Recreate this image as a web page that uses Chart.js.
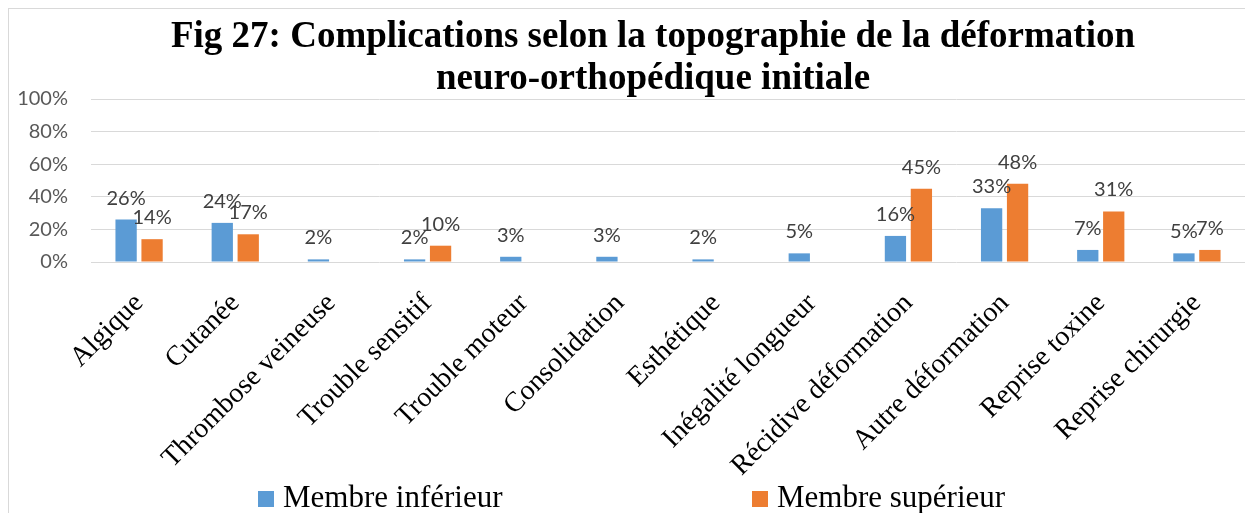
<!DOCTYPE html>
<html>
<head>
<meta charset="utf-8">
<script src="https://cdn.jsdelivr.net/npm/chart.js@4/dist/chart.umd.min.js"></script>
<style>
  html, body { margin: 0; padding: 0; background: #fff; }
  #wrap { width: 1245px; height: 513px; position: relative; }
</style>
</head>
<body>
<div id="wrap"><canvas id="chart1"></canvas></div>
<script>
const categories = ["Algique", "Cutanée", "Thrombose veineuse", "Trouble sensitif", "Trouble moteur", "Consolidation", "Esthétique", "Inégalité longueur", "Récidive déformation", "Autre déformation", "Reprise toxine", "Reprise chirurgie"];
const membreInferieur = [26, 24, 1.6, 1.6, 3.2, 3.2, 1.6, 5.3, 16, 33, 7.4, 5.3];
const membreSuperieur = [14, 17, null, 10, null, null, null, null, 45, 48, 31, 7.4];
const yTicks = [0, 20, 40, 60, 80, 100];
const titleLines = ["Fig 27: Complications selon la topographie de la déformation", "neuro-orthopédique initiale"];

// frame around the chart, like the office export
const framePlugin = {
  id: "frame",
  beforeDraw(chart) {
    const ctx = chart.ctx;
    ctx.save();
    ctx.strokeStyle = "#d9d9d9";
    ctx.lineWidth = 1;
    ctx.strokeRect(8.5, 8.5, chart.width + 20, chart.height + 20);
    ctx.restore();
  }
};

// two-line bold title, centred a bit right of the canvas middle
const titlePlugin = {
  id: "figTitle",
  afterDraw(chart) {
    const ctx = chart.ctx;
    ctx.save();
    ctx.font = "bold 37px 'Liberation Serif', 'Times New Roman', serif";
    ctx.fillStyle = "#000";
    ctx.textAlign = "center";
    ctx.textBaseline = "alphabetic";
    ctx.fillText(titleLines[0], 653, 47);
    ctx.fillText(titleLines[1], 653, 89);
    ctx.restore();
  }
};

// percentage labels over each bar
const barLabels = {
  id: "barLabels",
  afterDatasetsDraw(chart) {
    const ctx = chart.ctx;
    ctx.save();
    ctx.font = "20px Lato, 'Liberation Sans', sans-serif";
    ctx.fillStyle = "#404040";
    ctx.textAlign = "center";
    ctx.textBaseline = "alphabetic";
    chart.data.datasets.forEach((ds, i) => {
      chart.getDatasetMeta(i).data.forEach((bar, j) => {
        const v = ds.data[j];
        if (v == null) return;
        ctx.fillText(Math.round(v) + "%", bar.x, bar.y - 15);
      });
    });
    ctx.restore();
  }
};

// legend spread out along the bottom
const wideLegend = {
  id: "wideLegend",
  afterDraw(chart) {
    const ctx = chart.ctx;
    const xs = [258, 752];
    ctx.save();
    ctx.font = "31px 'Liberation Serif', 'Times New Roman', serif";
    ctx.textBaseline = "alphabetic";
    ctx.textAlign = "left";
    chart.data.datasets.forEach((ds, i) => {
      ctx.fillStyle = ds.backgroundColor;
      ctx.fillRect(xs[i], 491, 16, 16);
      ctx.fillStyle = "#000";
      ctx.fillText(ds.label, xs[i] + 25, 507);
    });
    ctx.restore();
  }
};

new Chart(document.getElementById("chart1"), {
  type: "bar",
  data: {
    labels: categories,
    datasets: [
      { label: "Membre inférieur", data: membreInferieur, backgroundColor: "#5B9BD5", categoryPercentage: 0.54, barPercentage: 0.82 },
      { label: "Membre supérieur", data: membreSuperieur, backgroundColor: "#ED7D31", categoryPercentage: 0.54, barPercentage: 0.82 }
    ]
  },
  options: {
    responsive: true,
    maintainAspectRatio: false,
    animation: false,
    layout: { padding: { left: 0, right: 0, top: 99, bottom: 0 } },
    plugins: {
      legend: { display: false },
      tooltip: { enabled: false },
      title: { display: false }
    },
    scales: {
      x: {
        grid: { display: false },
        border: { display: false },
        ticks: {
          color: "#000",
          font: { family: "'Liberation Serif', 'Times New Roman', serif", size: 28 },
          minRotation: 45,
          maxRotation: 45,
          autoSkip: false,
          padding: 17
        },
        afterFit(s) { s.height = 251; }
      },
      y: {
        min: 0,
        max: 100,
        afterBuildTicks(s) { s.ticks = yTicks.map(v => ({ value: v })); },
        grid: { color: "#d9d9d9", drawTicks: false },
        border: { display: false },
        ticks: {
          color: "#595959",
          font: { family: "Lato, 'Liberation Sans', sans-serif", size: 20 },
          padding: 23,
          callback: v => v + "%"
        },
        afterFit(s) { s.width = 91; }
      }
    }
  },
  plugins: [framePlugin, titlePlugin, barLabels, wideLegend]
});
</script>
</body>
</html>
